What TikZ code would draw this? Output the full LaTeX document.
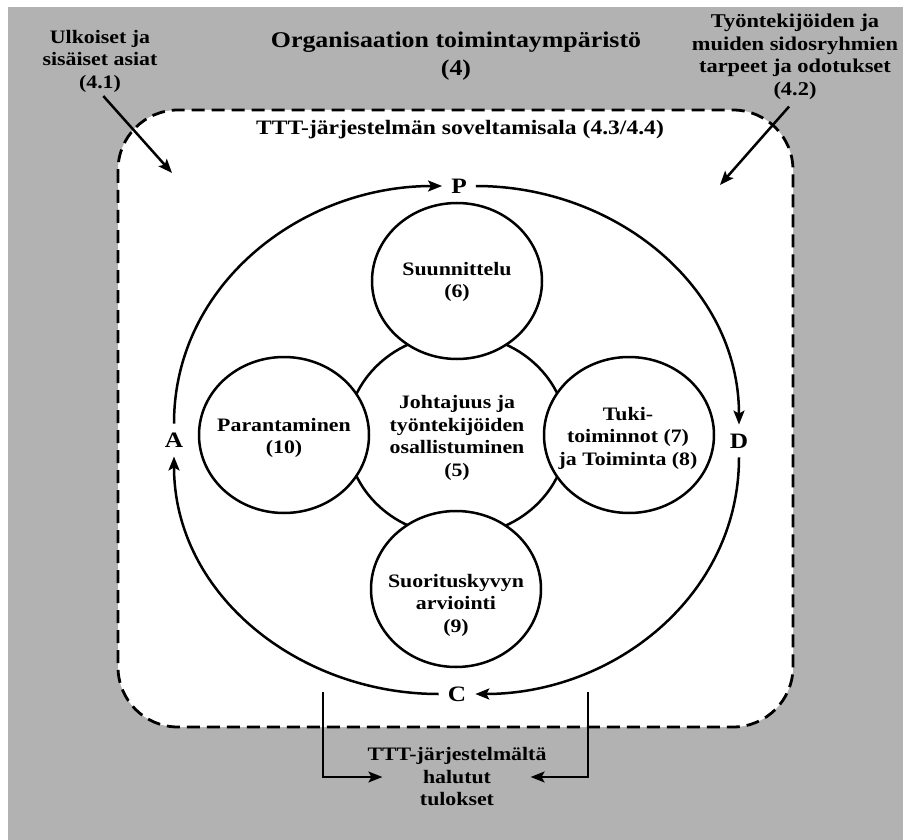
\documentclass[tikz,border=0pt]{standalone}
\usepackage{fontspec}
\setmainfont{Liberation Serif}[FakeStretch=1.15]
\usetikzlibrary{arrows.meta,shapes.geometric}

\begin{document}
\begin{tikzpicture}[x=1pt,y=-1pt,
		lbl/.style={font=\fontsize{19}{22.5}\selectfont\bfseries,align=center,inner sep=0pt},
		big/.style={font=\fontsize{22.5}{28}\selectfont\bfseries,align=center,inner sep=0pt},
		pdca/.style={font=\fontsize{22}{24}\selectfont\bfseries,inner sep=9pt},
		arr/.style={line width=2.5pt,-{Stealth[length=14pt,width=11pt,inset=3pt]}},
		ring/.style={draw,ellipse,line width=2.5pt,fill=white,minimum width=170pt,minimum height=156pt}]
		\useasboundingbox (0,0) rectangle (903,840);
		\fill[black!30] (8,7) rectangle (903,840);
		\draw[line width=2.8pt,dash pattern=on 13pt off 7pt,rounded corners=60pt,fill=white] (118,110) rectangle (793,727);
		
		\node[big] (env) at (456,56) {Organisaation toimintaympäristö\\(4)};
		\node[lbl] (ext) at (100,61) {Ulkoiset ja\\sisäiset asiat\\(4.1)};
		\node[lbl,font=\fontsize{19.5}{22.5}\selectfont\bfseries] (need) at (795,57) {Työntekijöiden ja\\muiden sidosryhmien\\tarpeet ja odotukset\\(4.2)};
		\node[big,font=\fontsize{20.5}{24}\selectfont\bfseries] (scope) at (460,130) {TTT-järjestelmän soveltamisala (4.3/4.4)};
		\coordinate (extin) at (172,173);
		\coordinate (needin) at (720,185);
		\draw[arr,shorten <=5pt] (ext.south) -- (extin);
		\draw[arr,shorten <=9pt] (need.south) -- (needin);
		
		\node[ring,minimum width=220pt,minimum height=202pt] (lead) at (457,435) {};
		\node[ring] (plan) at (457,281) {};
		\node[ring] (impr) at (284,435) {};
		\node[ring] (supp) at (629,435) {};
		\node[ring] (eval) at (456,589) {};
		\node[lbl] (leadtxt) at (457,438) {Johtajuus ja\\työntekijöiden\\osallistuminen\\(5)};
		\node[lbl] (plantxt) at (457,282) {Suunnittelu\\(6)};
		\node[lbl] (imprtxt) at (284,438) {Parantaminen\\(10)};
		\node[lbl] (supptxt) at (628,438) {Tuki-\\toiminnot (7)\\ja Toiminta (8)};
		\node[lbl] (evaltxt) at (456,605) {Suorituskyvyn\\arviointi\\(9)};
		
		\node[pdca] (P) at (459,186) {P};
		\node[pdca] (D) at (739,441) {D};
		\node[pdca] (C) at (457,694) {C};
		\node[pdca] (A) at (174,440) {A};
		\draw[arr] (A.north) to[out=90,in=180] (P.west);
		\draw[arr] (P.east) to[out=0,in=90] (D.north);
		\draw[arr] (D.south) to[out=-90,in=0] (C.east);
		\draw[arr] (C.west) to[out=180,in=-90] (A.south);
		
		\node[lbl] (res) at (457,777) {TTT-järjestelmältä\\halutut\\tulokset};
		\coordinate (resl) at (323,692);
		\coordinate (resr) at (588,692);
		\draw[arr,line width=1.6pt] (resl) |- ([xshift=15pt]res.west);
		\draw[arr,line width=1.6pt] (resr) |- ([xshift=-16pt]res.east);
	\end{tikzpicture}
\end{document}
